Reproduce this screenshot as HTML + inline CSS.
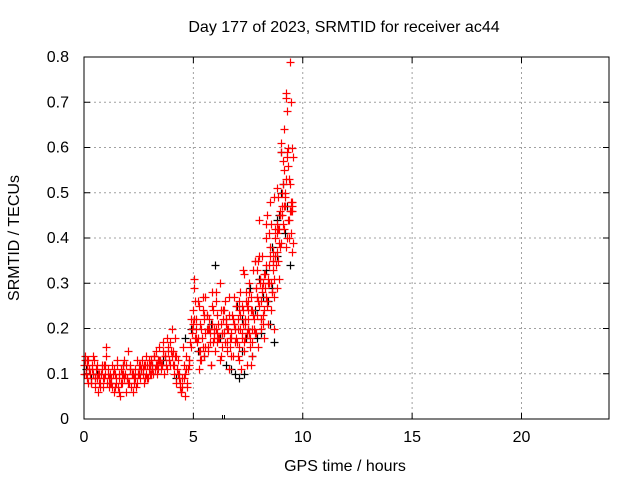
<!DOCTYPE html>
<html><head><meta charset="utf-8"><style>
body{margin:0;background:#fff}
svg{display:block;font-family:"Liberation Sans",sans-serif}
</style></head><body>
<svg id="c" width="640" height="480"></svg>
<script>
const xTicks=[0,5,10,15,20];
const yTicks=[0,0.1,0.2,0.3,0.4,0.5,0.6,0.7,0.8];
const yTickLabels=["0","0.1","0.2","0.3","0.4","0.5","0.6","0.7","0.8"];
const blackT=[0.1,0.3,0.6,1.2,1.8,2.5,3.1,3.6,4.2,4.6,4.9,5.2,5.5,5.8,6.0,6.2,6.5,6.7,6.9,7.0,7.1,7.2,7.3,7.4,7.5,7.6,7.7,7.8,7.9,8.0,8.1,8.2,8.3,8.4,8.5,8.6,8.7,8.8,8.9,9.0,9.1,9.2,9.3,9.4,9.0,8.8,8.6,7.2];
const blackV=[0.11,0.09,0.1,0.08,0.12,0.1,0.12,0.13,0.09,0.18,0.2,0.15,0.14,0.21,0.34,0.18,0.12,0.11,0.1,0.25,0.09,0.22,0.1,0.18,0.2,0.29,0.14,0.24,0.18,0.31,0.19,0.27,0.33,0.26,0.21,0.38,0.17,0.36,0.45,0.59,0.52,0.41,0.47,0.34,0.5,0.44,0.29,0.15];
const redT=[0.0,0.05,0.1,0.15,0.2,0.25,0.3,0.35,0.4,0.45,0.5,0.55,0.6,0.65,0.7,0.75,0.8,0.85,0.9,0.95,1.0,1.05,1.1,1.15,1.2,1.25,1.3,1.35,1.4,1.45,1.5,1.55,1.6,1.65,1.7,1.75,1.8,1.85,1.9,1.95,2.0,2.05,2.1,2.15,2.2,2.25,2.3,2.35,2.4,2.45,2.5,2.55,2.6,2.65,2.7,2.75,2.8,2.85,2.9,2.95,3.0,3.05,3.1,3.15,3.2,3.25,3.3,3.35,3.4,3.45,3.5,3.55,3.6,3.65,3.7,3.75,3.8,3.85,3.9,3.95,4.0,4.05,4.1,4.15,4.2,4.25,4.3,4.35,4.4,4.45,4.5,4.55,4.6,4.65,4.7,4.75,4.8,4.85,4.9,4.95,
0.02,0.12,0.22,0.32,0.42,0.52,0.62,0.72,0.82,0.92,1.02,1.12,1.22,1.32,1.42,1.52,1.62,1.72,1.82,1.92,2.02,2.12,2.22,2.32,2.42,2.52,2.62,2.72,2.82,2.92,3.02,3.12,3.22,3.32,3.42,3.52,3.62,3.72,3.82,3.92,4.02,4.12,4.22,4.32,4.42,4.52,4.62,4.72,4.82,4.92,
5.0,5.05,5.1,5.15,5.2,5.25,5.3,5.35,5.4,5.45,5.5,5.55,5.6,5.65,5.7,5.75,5.8,5.85,5.9,5.95,6.0,6.05,6.1,6.15,6.2,6.25,6.3,6.35,6.4,6.45,6.5,6.55,6.6,6.65,6.7,6.75,6.8,6.85,6.9,6.95,
5.02,5.12,5.22,5.32,5.42,5.52,5.62,5.72,5.82,5.92,6.02,6.12,6.22,6.32,6.42,6.52,6.62,6.72,6.82,6.92,5.07,5.27,5.47,5.67,5.87,6.07,6.27,6.47,6.67,6.87,
7.0,7.05,7.1,7.15,7.2,7.25,7.3,7.35,7.4,7.45,7.5,7.55,7.6,7.65,7.7,7.75,7.8,7.85,7.9,7.95,8.0,8.05,8.1,8.15,8.2,8.25,8.3,8.35,8.4,8.45,8.5,8.55,8.6,8.65,8.7,8.75,8.8,8.85,8.9,8.95,9.0,9.05,9.1,9.15,9.2,9.25,9.3,9.35,9.4,9.45,9.5,
7.02,7.12,7.22,7.32,7.42,7.52,7.62,7.72,7.82,7.92,8.02,8.12,8.22,8.32,8.42,8.52,8.62,8.72,8.82,8.92,9.02,9.12,9.22,9.32,9.42,9.52,
7.07,7.27,7.47,7.67,7.87,8.07,8.27,8.47,8.67,8.87,9.07,9.27,9.47,7.17,7.37,7.57,7.77,7.97,8.17,8.37,8.57,8.77,8.97,9.17,9.37,9.57,
8.1,8.2,8.4,8.6,8.8,8.95,9.0,9.15,9.25,9.3,9.4,9.45,9.5,9.35,9.2,8.9,8.7,8.3,7.9,7.7,7.5,7.3,7.1];
const redV=[0.12,0.14,0.1,0.09,0.13,0.11,0.08,0.12,0.1,0.13,0.07,0.11,0.09,0.06,0.1,0.08,0.12,0.07,0.09,0.1,0.14,0.08,0.11,0.07,0.1,0.09,0.12,0.06,0.1,0.08,0.13,0.07,0.09,0.05,0.11,0.08,0.1,0.13,0.06,0.09,0.15,0.08,0.12,0.07,0.1,0.06,0.09,0.11,0.08,0.1,0.12,0.09,0.11,0.13,0.1,0.08,0.12,0.14,0.09,0.11,0.1,0.13,0.12,0.1,0.14,0.11,0.15,0.12,0.13,0.16,0.11,0.12,0.15,0.1,0.14,0.12,0.18,0.16,0.13,0.17,0.2,0.15,0.12,0.18,0.14,0.11,0.13,0.1,0.07,0.06,0.09,0.12,0.05,0.14,0.08,0.11,0.13,0.17,0.22,0.19,
0.1,0.13,0.11,0.08,0.14,0.09,0.1,0.07,0.11,0.12,0.16,0.09,0.08,0.1,0.07,0.12,0.06,0.1,0.09,0.12,0.08,0.11,0.1,0.09,0.13,0.1,0.11,0.12,0.1,0.09,0.12,0.11,0.14,0.1,0.13,0.12,0.17,0.14,0.15,0.12,0.14,0.1,0.08,0.09,0.06,0.16,0.1,0.07,0.12,0.2,
0.24,0.29,0.2,0.17,0.26,0.15,0.21,0.13,0.18,0.24,0.14,0.27,0.2,0.16,0.22,0.19,0.12,0.25,0.17,0.2,0.15,0.28,0.23,0.18,0.3,0.21,0.16,0.24,0.19,0.26,0.22,0.15,0.2,0.27,0.18,0.23,0.14,0.21,0.17,0.25,
0.31,0.22,0.18,0.13,0.27,0.16,0.23,0.2,0.12,0.18,0.26,0.21,0.13,0.19,0.24,0.17,0.11,0.14,0.22,0.2,0.18,0.11,0.23,0.15,0.28,0.19,0.14,0.21,0.16,0.27,
0.17,0.22,0.13,0.28,0.19,0.24,0.15,0.21,0.26,0.12,0.2,0.3,0.18,0.24,0.14,0.22,0.35,0.19,0.27,0.16,0.25,0.31,0.2,0.29,0.23,0.18,0.34,0.26,0.21,0.3,0.38,0.24,0.28,0.33,0.2,0.36,0.29,0.42,0.31,0.46,0.39,0.5,0.43,0.55,0.47,0.38,0.58,0.44,0.52,0.41,0.6,
0.14,0.2,0.25,0.17,0.28,0.22,0.12,0.33,0.19,0.27,0.44,0.36,0.24,0.4,0.3,0.48,0.35,0.42,0.51,0.39,0.61,0.47,0.72,0.56,0.46,0.37,
0.26,0.33,0.19,0.24,0.29,0.22,0.32,0.41,0.27,0.35,0.45,0.4,0.48,0.11,0.18,0.16,0.2,0.35,0.3,0.25,0.43,0.34,0.38,0.49,0.53,0.58,
0.26,0.21,0.31,0.28,0.37,0.45,0.59,0.64,0.71,0.68,0.79,0.7,0.47,0.4,0.5,0.42,0.49,0.43,0.23,0.17,0.24,0.32,0.16];
const redT2=[0.03,0.08,0.13,0.18,0.28,0.38,0.48,0.58,0.68,0.78,0.88,0.98,1.08,1.18,1.28,1.38,1.48,1.58,1.68,1.78,1.88,1.98,2.08,2.18,2.28,2.38,2.48,2.58,2.68,2.78,2.88,2.98,3.08,3.18,3.28,3.38,3.48,3.58,3.68,3.78,3.88,3.98,4.08,4.18,4.28,4.38,4.48,4.58,4.68,4.78,4.88,4.98,
5.04,5.14,5.24,5.34,5.44,5.54,5.64,5.74,5.84,5.94,6.04,6.14,6.24,6.34,6.44,6.54,6.64,6.74,6.84,6.94,5.09,5.29,5.49,5.69,5.89,6.09,6.29,6.49,6.69,6.89,
7.04,7.14,7.24,7.34,7.44,7.54,7.64,7.74,7.84,7.94,8.04,8.14,8.24,8.34,8.44,8.54,8.64,8.74,8.84,8.94,9.04,9.14,9.24,9.34,9.44,9.54,
7.09,7.29,7.49,7.69,7.89,8.09,8.29,8.49,8.69,8.89,9.09,9.29,9.49,8.02,8.35,8.62,8.81,9.11,9.33,9.52,7.55,7.81,8.05];
const redV2=[0.13,0.1,0.12,0.08,0.1,0.11,0.09,0.12,0.08,0.1,0.09,0.12,0.1,0.08,0.07,0.11,0.09,0.1,0.08,0.12,0.1,0.09,0.11,0.1,0.08,0.07,0.1,0.12,0.11,0.09,0.12,0.13,0.1,0.14,0.12,0.11,0.13,0.12,0.14,0.11,0.13,0.15,0.12,0.14,0.1,0.08,0.07,0.09,0.11,0.13,0.16,0.21,
0.22,0.18,0.25,0.2,0.16,0.19,0.23,0.17,0.21,0.19,0.2,0.18,0.24,0.22,0.17,0.2,0.23,0.19,0.21,0.18,0.26,0.15,0.22,0.2,0.24,0.17,0.19,0.22,0.18,0.2,
0.2,0.23,0.18,0.22,0.25,0.19,0.27,0.23,0.29,0.26,0.3,0.28,0.32,0.27,0.34,0.3,0.35,0.4,0.43,0.45,0.47,0.42,0.53,0.44,0.46,0.39,
0.24,0.21,0.26,0.2,0.33,0.22,0.29,0.36,0.31,0.49,0.52,0.59,0.46,0.36,0.45,0.37,0.41,0.57,0.6,0.48,0.28,0.35,0.31];
const svg=document.getElementById('c');
const NS='http://www.w3.org/2000/svg';
const X0=84,X1=609,Y0=419,Y1=57,XMAX=24,YMAX=0.8;
const sx=t=>X0+t/XMAX*(X1-X0);
const sy=v=>Y0-v/YMAX*(Y0-Y1);
function mk(tag,a,p){const e=document.createElementNS(NS,tag);for(const k in a)e.setAttribute(k,a[k]);(p||svg).appendChild(e);return e;}
yTicks.forEach((v,i)=>{
 if(i>0&&i<yTicks.length-1){const g=mk('line',{x1:X0,x2:X1,y1:sy(v),y2:sy(v),stroke:'#a0a0a0','stroke-dasharray':'2,3'});
 
 }
 const l=mk('line',{x1:X0,x2:X0+6,y1:sy(v),y2:sy(v),stroke:'#000'});
 
 
 const r=mk('line',{x1:X1-6,x2:X1,y1:sy(v),y2:sy(v),stroke:'#000'});
 
 
 const t=mk('text',{x:X0-15,y:sy(v)+5,'text-anchor':'end','font-size':'16'});t.textContent=yTickLabels[i];
 
 
});
xTicks.forEach(v=>{
 if(v>0){const g=mk('line',{x1:sx(v),x2:sx(v),y1:Y0,y2:Y1,stroke:'#a0a0a0','stroke-dasharray':'2,3'});
 
 }
 const l=mk('line',{x1:sx(v),x2:sx(v),y1:Y0,y2:Y0-6,stroke:'#000'});
 
 
 const r=mk('line',{x1:sx(v),x2:sx(v),y1:Y1,y2:Y1+6,stroke:'#000'});
 
 
 const t=mk('text',{x:sx(v),y:Y0+23,'text-anchor':'middle','font-size':'16'});t.textContent=String(v);
 
 
});
function plus(t,v,col,name){
 const x=Math.round(sx(t))+0.5,y=Math.round(sy(v))+0.5;
 const p=mk('path',{d:`M${x-4} ${y}H${x+4}M${x} ${y-4}V${y+4}`,stroke:col,'stroke-width':1.2,fill:'none'});
 
 
}
blackT.forEach((t,i)=>plus(t,blackV[i],'#000','black-point'));
redT.forEach((t,i)=>plus(t,redV[i],'#ff0000','red-point'));
redT2.forEach((t,i)=>plus(t,redV2[i],'#ff0000','red-point'));
const bm=mk('path',{d:`M${Math.round(sx(6.3))+0.5} ${Y0-4}V${Y0}M${Math.round(sx(6.3))+2.5} ${Y0-4}V${Y0}`,stroke:'#000'});


const fr=mk('rect',{x:X0,y:Y1,width:X1-X0,height:Y0-Y1,fill:'none',stroke:'#000'});


const ti=mk('text',{x:344,y:32,'text-anchor':'middle','font-size':'16'});ti.textContent='Day 177 of 2023, SRMTID for receiver ac44';


const xl=mk('text',{x:345,y:471,'text-anchor':'middle','font-size':'16'});xl.textContent='GPS time / hours';


const yl=mk('text',{x:0,y:0,'text-anchor':'middle','font-size':'16'});
yl.setAttribute('transform','translate(19,238) rotate(-90)');
yl.textContent='SRMTID / TECUs';


</script>
</body></html>
